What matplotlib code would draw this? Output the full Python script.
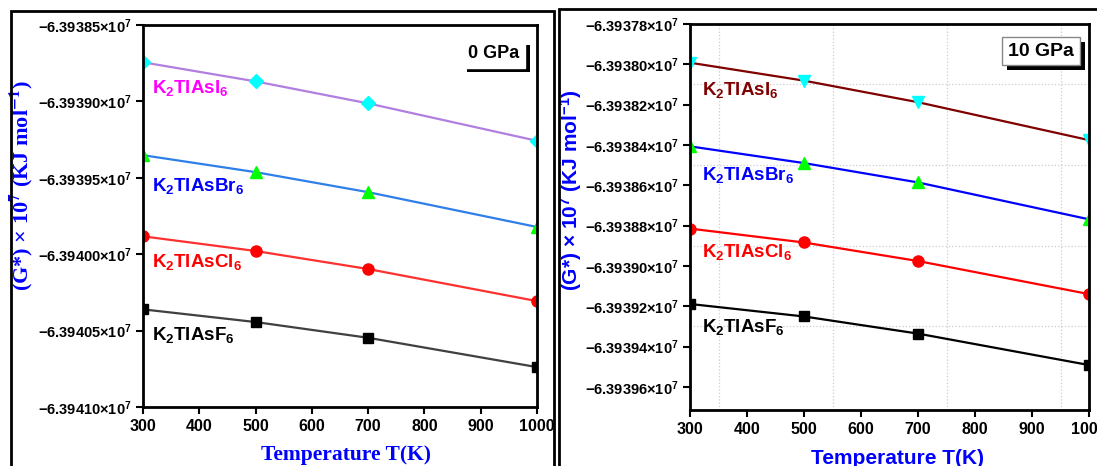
import matplotlib
matplotlib.use("Agg")
import matplotlib.pyplot as plt
import matplotlib.patheffects as pe
from matplotlib.patches import Rectangle
from matplotlib.ticker import FuncFormatter

plt.rcParams['font.family'] = ['Liberation Sans', 'DejaVu Sans']
plt.rcParams['font.weight'] = 'bold'
plt.rcParams['axes.labelweight'] = 'bold'
plt.rcParams['mathtext.fontset'] = 'custom'
plt.rcParams['mathtext.rm'] = 'Liberation Sans:bold'
plt.rcParams['mathtext.bf'] = 'Liberation Sans:bold'
plt.rcParams['mathtext.it'] = 'Liberation Sans:bold:italic'

# temperatures (K)
temps = [300, 500, 700, 1000]

# G* at 0 GPa
g0_I = [-63938744, -63938869, -63939013, -63939258]
g0_Br = [-63939352, -63939463, -63939594, -63939822]
g0_Cl = [-63939883, -63939979, -63940097, -63940307]
g0_F = [-63940361, -63940444, -63940547, -63940739]

# G* at 10 GPa
g10_I = [-63937992, -63938081, -63938188, -63938376]
g10_Br = [-63938407, -63938490, -63938586, -63938769]
g10_Cl = [-63938815, -63938884, -63938976, -63939140]
g10_F = [-63939189, -63939251, -63939336, -63939492]

names = ["K$_2$TlAsI$_6$", "K$_2$TlAsBr$_6$", "K$_2$TlAsCl$_6$", "K$_2$TlAsF$_6$"]

yticks0 = [-63941000, -63940500, -63940000, -63939500, -63939000, -63938500]
yticks10 = [-63939600, -63939400, -63939200, -63939000, -63938800, -63938600,
            -63938400, -63938200, -63938000, -63937800]
xticks = [300, 400, 500, 600, 700, 800, 900, 1000]
gridx10 = [350, 550, 750, 950]
gridy10 = [-63939300, -63938900, -63938500, -63938100]

W, H = 1097, 466
fig = plt.figure(figsize=(W / 100, H / 100), dpi=100)

def px(x0, y0, x1, y1):
    return [x0 / W, 1 - y1 / H, (x1 - x0) / W, (y1 - y0) / H]

ax0 = fig.add_axes(px(143, 25, 537, 407))
ax1 = fig.add_axes(px(690, 24, 1089, 410))

fmt = FuncFormatter(lambda v, p: "\u2212%.5f\u00d710$^{7}$" % (abs(v) / 1e7))

def style(ax, yticks, ylim):
    ax.set_xlim(300, 1000)
    ax.set_ylim(*ylim)
    ax.set_xticks(xticks)
    ax.set_yticks(yticks)
    ax.yaxis.set_major_formatter(fmt)
    ax.tick_params(direction='out', length=5, width=1.5, labelsize=11.5)
    ax.tick_params(axis='y', labelsize=10.5)
    for s in ax.spines.values():
        s.set_linewidth(2)

style(ax0, yticks0, (-63941000, -63938500))
style(ax1, yticks10, (-63939715, -63937800))

# 0 GPa panel
ax0.plot(temps, g0_I, color='#b07fe0', lw=1.6, marker='D', ms=7, mfc='#00ffff', mec='#00ffff')
ax0.plot(temps, g0_Br, color='#2f7fe8', lw=1.6, marker='^', ms=8, mfc='#00ff00', mec='#00ff00')
ax0.plot(temps, g0_Cl, color='#ff3030', lw=1.6, marker='o', ms=8, mfc='#ff0000', mec='#ff0000')
ax0.plot(temps, g0_F, color='#404040', lw=1.6, marker='s', ms=7, mfc='black', mec='black')

lab0 = [('#ff00ff', 0.835), ('#0000ff', 0.579), ('#ff0000', 0.38), ('black', 0.188)]
for n, (c, y) in zip(names, lab0):
    ax0.text(0.022, y, n, color=c, fontsize=13.5, transform=ax0.transAxes, va='center')

# 10 GPa panel
ax1.set_xticks(gridx10, minor=True)
ax1.set_yticks(gridy10, minor=True)
ax1.tick_params(which='minor', length=0)
ax1.grid(which='minor', color='#cccccc', ls=':', lw=0.9)
ax1.plot(temps, g10_I, color='#800000', lw=1.6, marker='v', ms=8, mfc='#00ffff', mec='#00ffff')
ax1.plot(temps, g10_Br, color='#0000ff', lw=1.6, marker='^', ms=8, mfc='#00ff00', mec='#00ff00')
ax1.plot(temps, g10_Cl, color='#ff0000', lw=1.6, marker='o', ms=8, mfc='#ff0000', mec='#ff0000')
ax1.plot(temps, g10_F, color='black', lw=1.6, marker='s', ms=7, mfc='black', mec='black')

lab10 = [('#800000', 0.829), ('#0000ff', 0.609), ('#ff0000', 0.409), ('black', 0.215)]
for n, (c, y) in zip(names, lab10):
    ax1.text(0.03, y, n, color=c, fontsize=13.5, transform=ax1.transAxes, va='center')

# axis labels
ax0.set_xlabel("Temperature T(K)", color='#0000ff', fontsize=15.5,
               fontfamily='Liberation Serif')
ax0.set_ylabel("(G*) \u00d7 10$^{\\mathbf{7}}$ (KJ mol$^{\\mathbf{-1}}$)", color='#0000ff',
               fontsize=16, fontfamily='Liberation Serif', math_fontfamily='stix')
ax1.set_xlabel("Temperature T(K)", color='#0000ff', fontsize=15)
ax1.set_ylabel("(G*) \u00d7 10$^{7}$ (KJ mol$^{-1}$)", color='#0000ff', fontsize=15)
ax0.yaxis.set_label_coords(-0.275, 0.58)
ax1.yaxis.set_label_coords(-0.265, 0.57)
ax0.xaxis.set_label_coords(0.515, -0.1)
ax1.xaxis.set_label_coords(0.52, -0.1)

# pressure tags with shadow
t0 = ax0.text(0.955, 0.925, "0 GPa", fontsize=13, ha='right', va='center', transform=ax0.transAxes,
              bbox=dict(boxstyle='square,pad=0.3', fc='white', ec='white', lw=1))
t1 = ax1.text(0.962, 0.93, "10 GPa", fontsize=14, ha='right', va='center', transform=ax1.transAxes,
              bbox=dict(boxstyle='square,pad=0.3', fc='white', ec='#888888', lw=1))
for t in (t0, t1):
    t.get_bbox_patch().set_path_effects([pe.SimplePatchShadow(offset=(3.5, -3.5), shadow_rgbFace='black', alpha=1),
                                         pe.Normal()])

# outer frames around each panel
fig.add_artist(Rectangle((11 / W, -0.05), 543 / W, 1.05 - 11 / H, transform=fig.transFigure,
                         fill=False, lw=2, ec='black'))
fig.add_artist(Rectangle((559 / W, -0.05), 560 / W, 1.05 - 9 / H, transform=fig.transFigure,
                         fill=False, lw=2, ec='black'))

fig.savefig("out.png", dpi=100)
